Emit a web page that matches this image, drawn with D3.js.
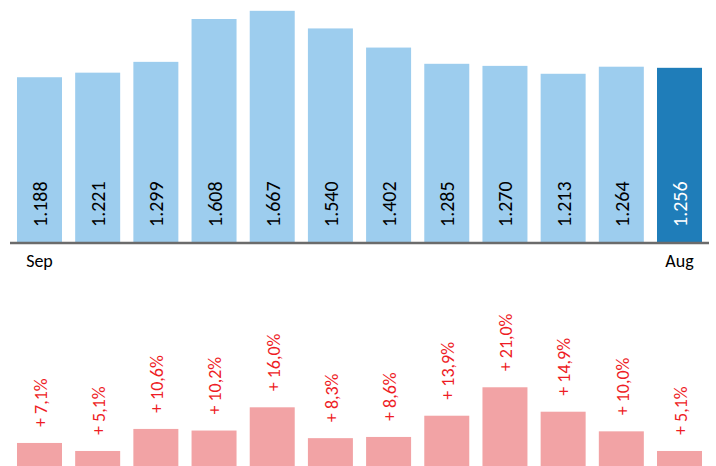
<!DOCTYPE html>
<html>
<head>
<meta charset="utf-8">
<script src="https://cdn.jsdelivr.net/npm/d3@7"></script>
<style>
  html, body { margin: 0; padding: 0; background: #fff; }
  svg { display: block; }
  text { font-family: Calibri, Carlito, Lato, "Open Sans", sans-serif; }
</style>
</head>
<body>
<svg id="chart" width="716" height="466"></svg>
<script>
const months = ["Sep","Oct","Nov","Dec","Jan","Feb","Mar","Apr","May","Jun","Jul","Aug"];
const tickLabels = ["Sep","","","","","","","","","","","Aug"];
const totals = [1.188, 1.221, 1.299, 1.608, 1.667, 1.540, 1.402, 1.285, 1.270, 1.213, 1.264, 1.256];
const totalLabels = ["1.188","1.221","1.299","1.608","1.667","1.540","1.402","1.285","1.270","1.213","1.264","1.256"];
const growth = [7.1, 5.1, 10.6, 10.2, 16.0, 8.3, 8.6, 13.9, 21.0, 14.9, 10.0, 5.1];
const growthLabels = ["+ 7,1%","+ 5,1%","+ 10,6%","+ 10,2%","+ 16,0%","+ 8,3%","+ 8,6%","+ 13,9%","+ 21,0%","+ 14,9%","+ 10,0%","+ 5,1%"];

const svg = d3.select("#chart");
const lightBlue = "#9DCDEE", darkBlue = "#1F7DB9", pink = "#F2A3A5", red = "#EE1C25";

const x = d3.scaleBand().domain(months).range([10.4, 708.6])
  .paddingInner(0.2266).paddingOuter(0.1133);

// Top chart
const y = d3.scaleLinear().domain([0, 1.745]).range([242, 0]);
const gTop = svg.append("g");
gTop.selectAll("rect").data(totals).join("rect")
  .attr("x", (d, i) => x(months[i]))
  .attr("width", x.bandwidth())
  .attr("y", d => y(d))
  .attr("height", d => y(0) - y(d))
  .attr("fill", (d, i) => i === totals.length - 1 ? darkBlue : lightBlue);

gTop.selectAll("text.val").data(totals).join("text")
  .attr("class", "val")
  .attr("transform", (d, i) => `translate(${x(months[i]) + x.bandwidth() / 2 + 0.5},${y(0) - 15}) rotate(-90)`)
  .attr("dy", "0.35em")
  .attr("text-anchor", "start")
  .attr("font-size", 20)
  .attr("fill", (d, i) => i === totals.length - 1 ? "#ffffff" : "#000000")
  .text((d, i) => totalLabels[i]);

const xAxis = d3.axisBottom(x).tickSize(0).tickPadding(11)
  .tickFormat((d, i) => tickLabels[i]);
const ax = svg.append("g").attr("transform", `translate(0,${y(0) + 1})`).call(xAxis);
ax.select(".domain").attr("stroke", "#6b6b6b").attr("stroke-width", 2.5)
  .attr("d", "M10,0H709");
ax.selectAll("text").attr("font-size", 18).attr("fill", "#000")
  .attr("font-family", 'Calibri, Carlito, Lato, "Open Sans", sans-serif');

// Bottom chart
const y2 = d3.scaleLinear().domain([0, 25]).range([471.4, 371.25]);
const gBot = svg.append("g");
gBot.selectAll("rect").data(growth).join("rect")
  .attr("x", (d, i) => x(months[i]))
  .attr("width", x.bandwidth())
  .attr("y", d => y2(d))
  .attr("height", d => y2(0) - y2(d))
  .attr("fill", pink);

gBot.selectAll("text").data(growth).join("text")
  .attr("transform", (d, i) => `translate(${x(months[i]) + x.bandwidth() / 2 + 1},${y2(d) - 16}) rotate(-90)`)
  .attr("dy", "0.35em")
  .attr("text-anchor", "start")
  .attr("font-size", 18)
  .attr("fill", red)
  .text((d, i) => growthLabels[i]);
</script>
</body>
</html>
